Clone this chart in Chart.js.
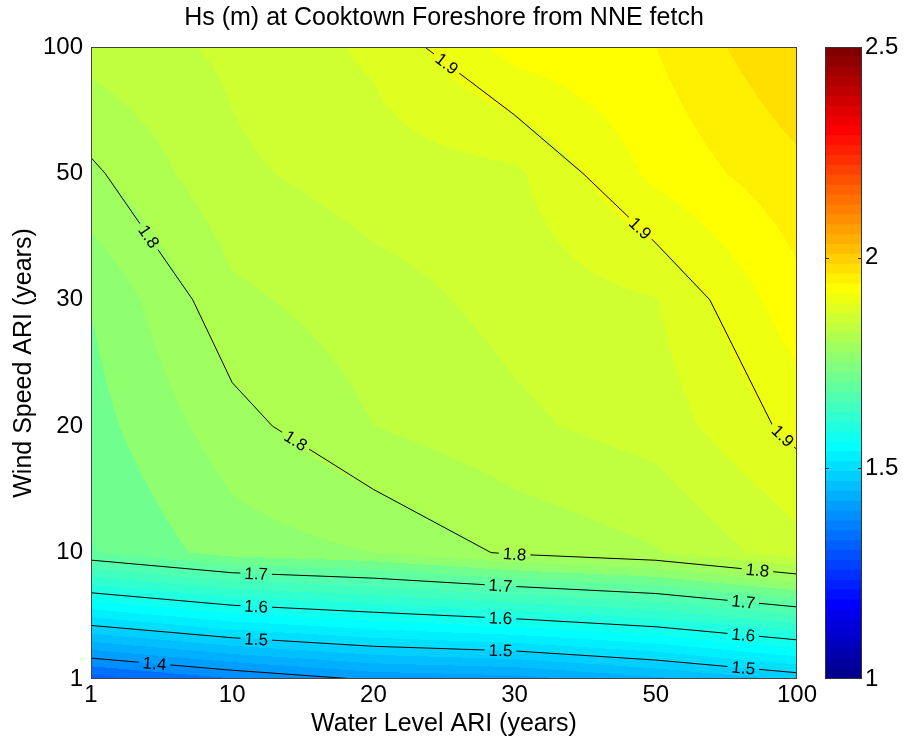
<!DOCTYPE html>
<html lang="en">
  <head>
    <meta charset="UTF-8" />
    <title>Hs (m) at Cooktown Foreshore from NNE fetch</title>
    <style>
      body {
        margin: 0;
        background: #fff;
      }
      .wrap {
        position: relative;
        width: 905px;
        height: 742px;
      }
      #main {
        position: absolute;
        left: 0;
        top: 0;
      }
      #cbar {
        position: absolute;
        left: 800px;
        top: 0;
      }
    </style>
  </head>
  <body>
    <div class="wrap">
      <canvas id="main" width="905" height="742"></canvas>
      <canvas id="cbar" width="105" height="742"></canvas>
    </div>

    <script src="https://cdn.jsdelivr.net/npm/chart.js"></script>
    <script>
      // axis categories (evenly spaced on the plot)
      const waterLevelARI = ["1", "10", "20", "30", "50", "100"];
      const windSpeedARI = ["1", "10", "20", "30", "50", "100"];

      // Hs (m), one row per wind speed ARI, columns follow waterLevelARI
      const hsWind1 = [1.336, 1.373, 1.404, 1.413, 1.443, 1.481];
      const hsWind10 = [1.723, 1.762, 1.775, 1.805, 1.823, 1.865];
      const hsWind20 = [1.74, 1.79, 1.825, 1.845, 1.861, 1.908];
      const hsWind30 = [1.751, 1.819, 1.84, 1.858, 1.874, 1.942];
      const hsWind50 = [1.795, 1.845, 1.862, 1.87, 1.932, 1.968];
      const hsWind100 = [1.835, 1.855, 1.88, 1.935, 1.95, 2.0];

      const contourLevels = [1.4, 1.5, 1.6, 1.7, 1.8, 1.9];
      // where the inline labels sit, as position along the x axis
      const labelSpots = {
        1.4: [0.45],
        1.5: [1.17, 2.9, 4.62],
        1.6: [1.17, 2.9, 4.62],
        1.7: [1.17, 2.9, 4.62],
        1.8: [0.41, 1.45, 3.0, 4.72],
        1.9: [2.52, 3.89, 4.9],
      };
      const colorTicks = [1, 1.5, 2, 2.5];

      const hsGrid = [hsWind1, hsWind10, hsWind20, hsWind30, hsWind50, hsWind100];
      const cMin = 1, cMax = 2.5, fillStep = 0.025, nColors = 64;
      const fontFamily = '"Liberation Sans", Arial, sans-serif';
      Chart.defaults.font.family = fontFamily;
      Chart.defaults.color = "#000";

      // matlab jet, 1-based index
      function jet(k) {
        const u = (t) => (t < 1 || t > 47 ? 0 : t <= 16 ? t / 16 : t <= 31 ? 1 : (48 - t) / 16);
        return [u(k - 24), u(k - 8), u(k + 8)].map((c) => Math.round(c * 255));
      }
      const jetMap = Array.from({ length: nColors }, (_, k) => jet(k + 1));

      function colorFor(v) {
        const lvl = cMin + Math.floor((v - cMin) / fillStep + 1e-9) * fillStep;
        let k = Math.floor(((lvl - cMin) / (cMax - cMin)) * nColors + 1e-9);
        k = Math.max(0, Math.min(nColors - 1, k));
        return jetMap[k];
      }

      function valueAt(fx, fy) {
        const i = Math.max(0, Math.min(4, Math.floor(fx)));
        const j = Math.max(0, Math.min(4, Math.floor(fy)));
        const tx = fx - i, ty = fy - j;
        const a = hsGrid[j][i], b = hsGrid[j][i + 1];
        const c = hsGrid[j + 1][i], d = hsGrid[j + 1][i + 1];
        return (a * (1 - tx) + b * tx) * (1 - ty) + (c * (1 - tx) + d * tx) * ty;
      }

      function contourSegments(level) {
        const segs = [];
        for (let j = 0; j < 5; j++) {
          for (let i = 0; i < 5; i++) {
            const c = [
              [i, j, hsGrid[j][i]],
              [i + 1, j, hsGrid[j][i + 1]],
              [i + 1, j + 1, hsGrid[j + 1][i + 1]],
              [i, j + 1, hsGrid[j + 1][i]],
            ];
            const pts = [];
            for (let e = 0; e < 4; e++) {
              const a = c[e], b = c[(e + 1) % 4];
              if ((a[2] - level) * (b[2] - level) < 0) {
                const t = (level - a[2]) / (b[2] - a[2]);
                pts.push([a[0] + t * (b[0] - a[0]), a[1] + t * (b[1] - a[1])]);
              }
            }
            if (pts.length === 2) segs.push(pts);
            if (pts.length === 4) {
              segs.push([pts[0], pts[1]], [pts[2], pts[3]]);
            }
          }
        }
        return segs;
      }

      const labelFont = "17px " + fontFamily;

      const contourPlugin = {
        id: "contour",
        beforeDatasetsDraw(chart) {
          const { ctx, chartArea } = chart;
          const xs = chart.scales.x, ys = chart.scales.y;
          const w = Math.round(chartArea.right - chartArea.left);
          const h = Math.round(chartArea.bottom - chartArea.top);
          const off = document.createElement("canvas");
          off.width = w;
          off.height = h;
          const octx = off.getContext("2d");
          const img = octx.createImageData(w, h);
          for (let py = 0; py < h; py++) {
            const fy = ys.getValueForPixel(chartArea.top + py + 0.5);
            for (let px = 0; px < w; px++) {
              const fx = xs.getValueForPixel(chartArea.left + px + 0.5);
              const col = colorFor(valueAt(fx, fy));
              const o = (py * w + px) * 4;
              img.data[o] = col[0];
              img.data[o + 1] = col[1];
              img.data[o + 2] = col[2];
              img.data[o + 3] = 255;
            }
          }
          octx.putImageData(img, 0, 0);
          ctx.drawImage(off, chartArea.left, chartArea.top);
        },
        afterDatasetsDraw(chart) {
          const { ctx, chartArea } = chart;
          const xs = chart.scales.x, ys = chart.scales.y;
          const px = (p) => [xs.getPixelForValue(p[0]), ys.getPixelForValue(p[1])];
          ctx.save();
          ctx.font = labelFont;

          const labels = [];
          const allSegs = [];
          contourLevels.forEach((level) => {
            const segs = contourSegments(level);
            segs.forEach((s) => allSegs.push(s));
            (labelSpots[level] || []).forEach((at) => {
              const s = segs.find((g) => Math.min(g[0][0], g[1][0]) <= at && at <= Math.max(g[0][0], g[1][0]));
              if (!s) return;
              const t = (at - s[0][0]) / (s[1][0] - s[0][0] || 1);
              const p = px([at, s[0][1] + t * (s[1][1] - s[0][1])]);
              const a = px(s[0]), b = px(s[1]);
              let ang = Math.atan2(b[1] - a[1], b[0] - a[0]);
              if (ang > Math.PI / 2) ang -= Math.PI;
              if (ang < -Math.PI / 2) ang += Math.PI;
              const text = level.toFixed(1);
              labels.push({ p, ang, text, w: ctx.measureText(text).width + 8, h: 16 });
            });
          });

          // clip out gaps for the labels
          ctx.beginPath();
          ctx.rect(chartArea.left, chartArea.top, chartArea.right - chartArea.left, chartArea.bottom - chartArea.top);
          labels.forEach((l) => {
            const c = Math.cos(l.ang), s = Math.sin(l.ang);
            const corners = [[-l.w / 2, -l.h / 2], [l.w / 2, -l.h / 2], [l.w / 2, l.h / 2], [-l.w / 2, l.h / 2]];
            corners.forEach((q, n) => {
              const x = l.p[0] + q[0] * c - q[1] * s;
              const y = l.p[1] + q[0] * s + q[1] * c;
              if (n === 0) ctx.moveTo(x, y);
              else ctx.lineTo(x, y);
            });
            ctx.closePath();
          });
          ctx.clip("evenodd");
          ctx.strokeStyle = "#000";
          ctx.lineWidth = 1;
          ctx.beginPath();
          allSegs.forEach((s) => {
            const a = px(s[0]), b = px(s[1]);
            ctx.moveTo(a[0], a[1]);
            ctx.lineTo(b[0], b[1]);
          });
          ctx.stroke();
          ctx.restore();

          ctx.save();
          ctx.font = labelFont;
          ctx.fillStyle = "#000";
          ctx.textAlign = "center";
          ctx.textBaseline = "middle";
          labels.forEach((l) => {
            ctx.save();
            ctx.translate(l.p[0], l.p[1]);
            ctx.rotate(l.ang);
            ctx.fillText(l.text, 0, 1);
            ctx.restore();
          });
          ctx.strokeStyle = "#444";
          ctx.lineWidth = 1;
          ctx.strokeRect(chartArea.left + 0.5, chartArea.top + 0.5, chartArea.right - chartArea.left - 1, chartArea.bottom - chartArea.top - 1);
          ctx.restore();
        },
      };

      const gridPoints = [];
      hsGrid.forEach((row, j) => row.forEach((v, i) => gridPoints.push({ x: i, y: j })));

      const tickFont = { size: 24, family: fontFamily };
      const titleFont = { size: 25, family: fontFamily };

      new Chart(document.getElementById("main"), {
        type: "scatter",
        data: {
          datasets: [{ data: gridPoints, pointRadius: 0, showLine: false }],
        },
        options: {
          responsive: false,
          animation: false,
          layout: { padding: { right: 108 } },
          plugins: {
            legend: { display: false },
            tooltip: { enabled: false },
            title: {
              display: true,
              fullSize: false,
              text: "Hs (m) at Cooktown Foreshore from NNE fetch",
              color: "#000",
              font: { size: 25, weight: "normal", family: fontFamily },
              padding: { top: 3, bottom: 14 },
            },
          },
          scales: {
            x: {
              type: "linear",
              min: 0,
              max: 5,
              grid: { display: false, drawTicks: false },
              border: { display: false },
              ticks: {
                stepSize: 1,
                padding: 2,
                font: tickFont,
                color: "#000",
                maxRotation: 0,
                callback: (v) => waterLevelARI[v],
              },
              title: {
                display: true,
                text: "Water Level ARI (years)",
                font: titleFont,
                color: "#000",
                padding: { top: 0, bottom: 3 },
              },
              afterFit: (s) => {
                s.height = 63;
              },
            },
            y: {
              type: "linear",
              min: 0,
              max: 5,
              grid: { display: false, drawTicks: false },
              border: { display: false },
              ticks: {
                stepSize: 1,
                padding: 8,
                font: tickFont,
                color: "#000",
                callback: (v) => windSpeedARI[v],
              },
              title: {
                display: true,
                text: "Wind Speed ARI (years)",
                font: titleFont,
                color: "#000",
                padding: { top: 9, bottom: 0 },
              },
              afterFit: (s) => {
                s.width = 91;
              },
            },
          },
        },
        plugins: [contourPlugin],
      });

      // colour bar
      const barStep = (cMax - cMin) / nColors;
      const cbarPlugin = {
        id: "cbarFrame",
        afterDatasetsDraw(chart) {
          const { ctx, chartArea } = chart;
          const ys = chart.scales.y;
          ctx.save();
          ctx.strokeStyle = "#333";
          ctx.lineWidth = 1;
          ctx.strokeRect(chartArea.left + 0.5, chartArea.top + 0.5, chartArea.right - chartArea.left - 1, chartArea.bottom - chartArea.top - 1);
          ctx.beginPath();
          colorTicks.slice(1, -1).forEach((t) => {
            const y = Math.round(ys.getPixelForValue(t)) + 0.5;
            ctx.moveTo(chartArea.left, y);
            ctx.lineTo(chartArea.left + 4, y);
            ctx.moveTo(chartArea.right - 4, y);
            ctx.lineTo(chartArea.right, y);
          });
          ctx.stroke();
          ctx.restore();
        },
      };

      new Chart(document.getElementById("cbar"), {
        type: "bar",
        data: {
          labels: [""],
          datasets: jetMap.map((c, k) => ({
            data: [[cMin + k * barStep, cMin + (k + 1) * barStep]],
            backgroundColor: `rgb(${c[0]},${c[1]},${c[2]})`,
            borderColor: `rgb(${c[0]},${c[1]},${c[2]})`,
            borderWidth: 0,
            inflateAmount: 0.6,
            barPercentage: 1,
            categoryPercentage: 1,
            grouped: false,
          })),
        },
        options: {
          responsive: false,
          animation: false,
          layout: { padding: { left: 25, top: 47, bottom: 63 } },
          plugins: { legend: { display: false }, tooltip: { enabled: false } },
          scales: {
            x: { display: false },
            y: {
              position: "right",
              min: cMin,
              max: cMax,
              grid: { display: false, drawTicks: false },
              border: { display: false },
              afterBuildTicks: (s) => {
                s.ticks = colorTicks.map((v) => ({ value: v }));
              },
              ticks: {
                padding: 3,
                font: tickFont,
                color: "#000",
                callback: (v) => String(v),
              },
              afterFit: (s) => {
                s.width = 43;
              },
            },
          },
        },
        plugins: [cbarPlugin],
      });
    </script>
  </body>
</html>
